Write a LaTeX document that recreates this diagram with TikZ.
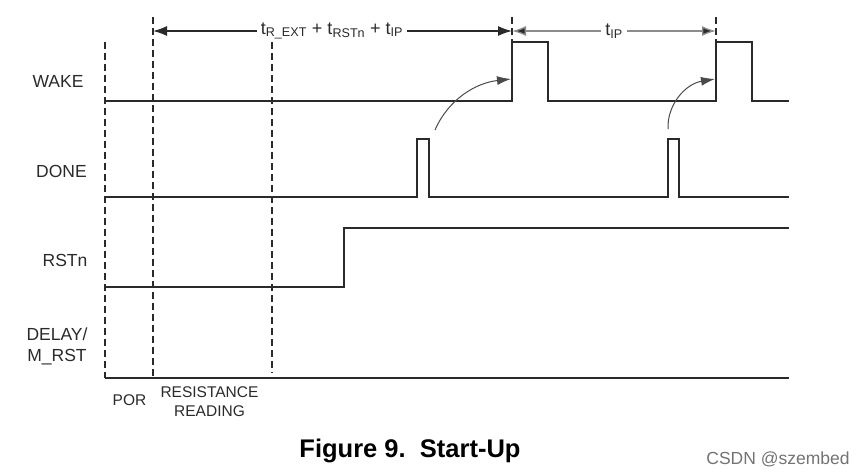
\documentclass[tikz,border=0pt]{standalone}
\usepackage{fontspec}
\setmainfont{Liberation Sans}
\usetikzlibrary{arrows.meta}
\definecolor{sig}{HTML}{2A2A2A}
\definecolor{dimgray}{HTML}{8C8C8C}
\begin{document}
\begin{tikzpicture}[x=1pt,y=-1pt,
  sigline/.style={draw=sig,line width=1.5pt,line join=miter},
  guide/.style={draw=sig,line width=1.4pt,dash pattern=on 7pt off 4pt},
  lbl/.style={font=\fontsize{17.5}{19}\selectfont,text=sig,inner sep=0pt},
  small/.style={font=\fontsize{15.5}{18}\selectfont,text=sig,inner sep=0pt,align=center},
  dimarrow/.style={line width=1.3pt,{Latex[length=14pt,width=10pt]}-{Latex[length=14pt,width=10pt]}},
  cause/.style={draw=sig!85,line width=1pt,-{Latex[length=14pt,width=9pt]}},
  dimlabel/.style={fill=white,inner xsep=4pt,inner ysep=1pt,font=\fontsize{18}{20}\selectfont,text=sig}
]
\useasboundingbox (0,0) rectangle (864,475);
% guide lines
\coordinate (g1t) at (105,42); \coordinate (g1b) at (105,378);
\coordinate (g2t) at (153,17); \coordinate (g2b) at (153,378);
\coordinate (g3t) at (272,42); \coordinate (g3b) at (272,373);
\coordinate (g4t) at (512,17); \coordinate (g4b) at (512,42);
\coordinate (g5t) at (716,17); \coordinate (g5b) at (716,42);
\draw[guide] (g1t) -- (g1b);
\draw[guide] (g2t) -- (g2b);
\draw[guide] (g3t) -- (g3b);
\draw[guide] (g4t) -- (g4b);
\draw[guide] (g5t) -- (g5b);
% dimension arrows
\coordinate (d1a) at (153,31); \coordinate (d1b) at (512,31); \coordinate (d2b) at (716,31);
\draw[dimarrow,draw=sig,fill=sig] (d1a) -- (d1b);
\draw[dimarrow,draw=dimgray,{Latex[length=14pt,width=10pt,fill=sig]}-{Latex[length=14pt,width=10pt,fill=sig]}] (d1b) -- (d2b);
\node[dimlabel] (lab1) at (332,31) {t\textsubscript{R\_EXT} + t\textsubscript{RSTn} + t\textsubscript{IP}};
\node[dimlabel] (lab2) at (614,31) {t\textsubscript{IP}};
% WAKE
\draw[sigline] (105,101) -- (512,101) -- (512,42) -- (548,42) -- (548,101) -- (716,101) -- (716,42) -- (752,42) -- (752,101) -- (789,101);
% DONE
\draw[sigline] (105,197) -- (417,197) -- (417,139) -- (429,139) -- (429,197) -- (668,197) -- (668,139) -- (679,139) -- (679,197) -- (789,197);
% RSTn
\draw[sigline] (105,287) -- (344,287) -- (344,228) -- (789,228);
% DELAY/M_RST
\draw[sigline] (105,378) -- (789,378);
% cause arrows
\coordinate (c1s) at (435,130); \coordinate (c1e) at (511,79);
\coordinate (c2s) at (668,129); \coordinate (c2e) at (715,79);
\draw[cause] (c1s) .. controls (448,100) and (475,83) .. (c1e);
\draw[cause] (c2s) .. controls (667,105) and (685,84) .. (c2e);
% labels
\node[lbl] (wake) at (58,81.5) {WAKE};
\node[lbl] (done) at (61.5,171) {DONE};
\node[lbl] (rstn) at (65,260.5) {RSTn};
\node[lbl,align=center] (delay) at (57,346.5) {DELAY/\\[1.5pt]M\_RST};
\node[small] (por) at (129.5,400.5) {POR};
\node[small] (res) at (209.5,401.5) {RESISTANCE\\[1pt]READING};
\node[inner sep=0pt,font=\bfseries\fontsize{25.5}{28}\selectfont,text=black] (cap) at (410,451) {Figure 9.\ \ Start-Up};
\node[inner sep=0pt,font=\fontsize{17.5}{20}\selectfont,text=black!55] (csdn) at (778,459) {CSDN @szembed};
\end{tikzpicture}
\end{document}
